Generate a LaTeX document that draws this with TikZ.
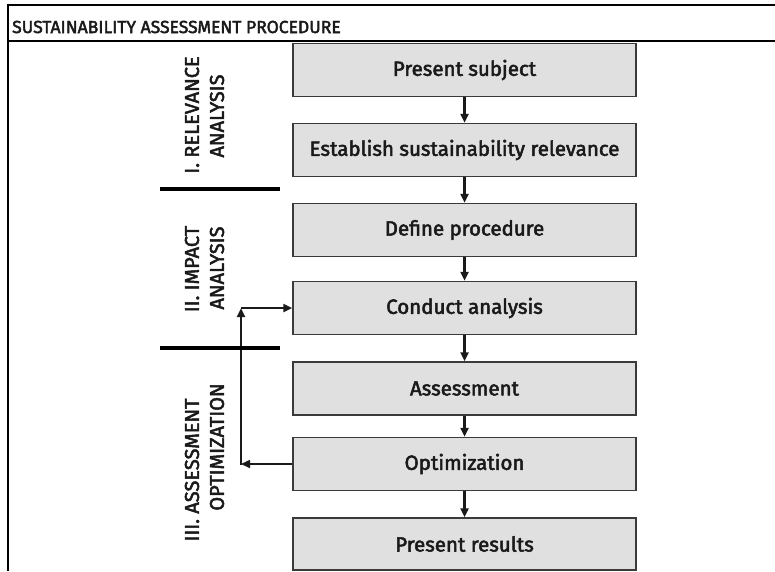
\documentclass[tikz,border=0pt]{standalone}
\usepackage{fontspec}
\setmainfont{Fira Sans}
\newfontfamily\medfont{Fira Sans}[FakeBold=2.5]
\usetikzlibrary{arrows.meta}
\definecolor{boxfill}{HTML}{E0E0E0}
\definecolor{boxline}{HTML}{3A3A3A}
\definecolor{txt}{HTML}{1A1A1A}
\begin{document}
\begin{tikzpicture}[x=1pt,y=-1pt,
  stepbox/.style={draw=boxline,line width=1.5pt,fill=boxfill,minimum width=343pt,minimum height=53pt,inner sep=0pt,text=txt,font=\fontsize{20.5}{23}\medfont},
  flow/.style={line width=2.4pt,draw=txt,-{Triangle[length=9pt,width=8pt]}},
  phase/.style={rotate=90,text=txt,font=\fontsize{20}{22}\medfont,inner sep=0pt},
  bar/.style={line width=4.5pt,draw=black},
  frame/.style={line width=1.4pt,draw=black}]
\useasboundingbox (0,0) rectangle (775,571);
% frame
\coordinate (tl) at (8,5);
\coordinate (tr) at (775,5);
\coordinate (bl) at (8,571);
\coordinate (dl) at (8,41);
\coordinate (dr) at (775,41);
\draw[frame] (tr) -- (tl) -- (bl);
\draw[frame] (dl) -- (dr);
\node[anchor=west,text=txt,font=\fontsize{17.5}{19}\medfont,inner sep=0pt] (title) at (12,27) {SUSTAINABILITY ASSESSMENT PROCEDURE};
% boxes
\node[stepbox] (b1) at (464.5,70) {Present subject};
\node[stepbox] (b2) at (464.5,150) {Establish sustainability relevance};
\node[stepbox] (b3) at (464.5,230) {Define procedure};
\node[stepbox] (b4) at (464.5,308) {Conduct analysis};
\node[stepbox] (b5) at (464.5,388.5) {Assessment};
\node[stepbox] (b6) at (464.5,464) {Optimization};
\node[stepbox,minimum height=52pt] (b7) at (464.5,544) {Present results};
\draw[flow] (b1) -- (b2);
\draw[flow] (b2) -- (b3);
\draw[flow] (b3) -- (b4);
\draw[flow] (b4) -- (b5);
\draw[flow] (b5) -- (b6);
\draw[flow] (b6) -- (b7);
% feedback loop
\coordinate (xl) at (241,0);
\coordinate (fb1) at (xl |- b6.west);
\coordinate (fb2) at (xl |- b4.west);
\draw[flow,line width=1.6pt] (b6.west) -- (fb1);
\draw[flow,line cap=rect] (fb1) -- (fb2);
\draw[flow] (fb2) -- (b4.west);
% bars
\coordinate (bar1l) at (160,189);
\coordinate (bar1r) at (280,189);
\coordinate (bar2l) at (160,348);
\coordinate (bar2r) at (280,348);
\draw[bar] (bar1l) -- (bar1r);
\draw[bar] (bar2l) -- (bar2r);
% phase labels
\node[phase] (p1a) at (192,115) {I. RELEVANCE};
\node[phase] (p1b) at (217,116) {ANALYSIS};
\node[phase] (p2a) at (192,269) {II. IMPACT};
\node[phase] (p2b) at (217,268) {ANALYSIS};
\node[phase] (p3a) at (192,470) {III. ASSESSMENT};
\node[phase] (p3b) at (217,447) {OPTIMIZATION};
\end{tikzpicture}
\end{document}
